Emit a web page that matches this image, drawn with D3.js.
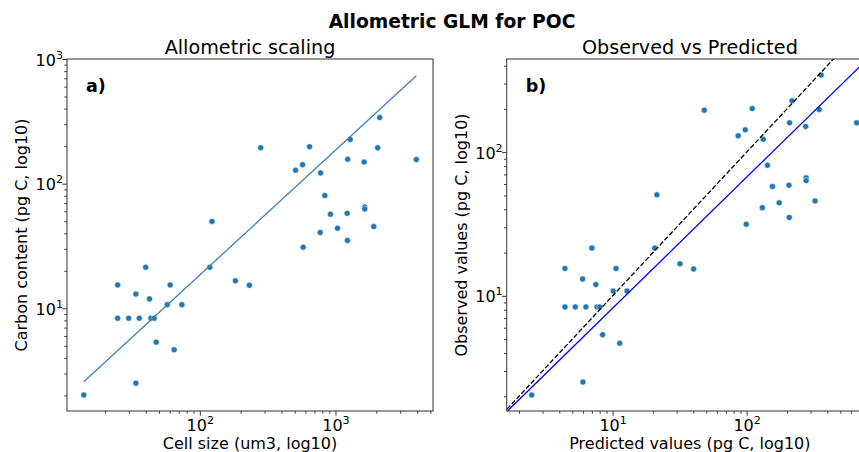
<!DOCTYPE html>
<html>
<head>
<meta charset="utf-8">
<script src="https://cdn.jsdelivr.net/npm/d3@7"></script>
<style>
body { margin: 0; background: #fff; }
text { font-family: "DejaVu Sans", sans-serif; fill: #000; }
</style>
</head>
<body>
<svg id="chart" width="859" height="452"></svg>
<script>
// panel a: cell size vs carbon content
var cellSize = [13.96, 33.8, 24.8, 24.8, 29.9, 35.8, 43.6, 46.1, 33.8, 39.9, 42.6, 47.7, 57.5, 60.5, 64.7, 73.8,
   118.5, 183, 232, 123, 281, 508, 572, 644, 776, 834, 918, 1219, 1035, 771, 578, 1225, 1230, 1283, 1626,
   1643, 1643, 1914, 2046, 2118, 3944];
var carbon = [2.02, 2.51, 15.4, 8.32, 8.32, 8.32, 8.32, 8.32, 13.0, 21.3, 11.9, 5.35, 10.7, 15.4, 4.64, 10.7,
   21.3, 16.6, 15.3, 49.7, 194, 128, 142, 198, 122, 80.2, 56.8, 57.8, 43.9, 40.6, 30.9, 35.0, 157, 226, 149,
   65.0, 62.7, 45.3, 194, 339, 156];
var fitLine = [{x: 13.96, y: 2.57}, {x: 3944, y: 735}];

// panel b: predicted vs observed
var predicted = [2.49, 6.0, 4.41, 4.41, 5.26, 6.32, 7.64, 8.0, 5.97, 7.0, 7.5, 8.42, 10.1, 10.6, 11.3, 12.8,
   20.6, 31.8, 40.2, 21.4, 48.3, 86.5, 97.7, 110, 133, 143, 156, 207, 175, 131, 99.3, 208, 209, 218, 276,
   278, 278, 324, 348, 360, 662];
var observed = [2.04, 2.51, 15.5, 8.38, 8.38, 8.38, 8.38, 8.38, 13.1, 21.5, 12.0, 5.37, 10.8, 15.5, 4.68, 10.8,
   21.5, 16.7, 15.4, 50.5, 196, 130, 143, 201, 123, 81, 57.7, 58.9, 44.4, 41.1, 31.5, 35.1, 160, 228, 151,
   66.3, 63.4, 45.8, 198, 344, 160];
var oneToOne = [{x: 1.5, y: 1.5}, {x: 1000, y: 1000}];
var obsFit = [{x: 1.62, y: 1.56}, {x: 877, y: 485}];

var titles = ["Allometric scaling", "Observed vs Predicted"];
var xLabels = ["Cell size (um3, log10)", "Predicted values (pg C, log10)"];
var yLabels = ["Carbon content (pg C, log10)", "Observed values (pg C, log10)"];
var panelTags = ["a)", "b)"];

var svg = d3.select("#chart");

svg.append("text")
   .attr("x", 452).attr("y", 28)
   .attr("text-anchor", "middle")
   .style("font-size", "18.7px").style("font-weight", "bold")
   .text("Allometric GLM for POC");

function logTicks(domain) {
   var major = [], minor = [];
   var e0 = Math.floor(Math.log10(domain[0])), e1 = Math.ceil(Math.log10(domain[1]));
   for (var e = e0; e <= e1; e++) {
      for (var m = 1; m < 10; m++) {
         var v = m * Math.pow(10, e);
         if (v >= domain[0] * 0.999 && v <= domain[1] * 1.001) (m === 1 ? major : minor).push(v);
      }
   }
   return {major: major, minor: minor};
}

function powLabel(sel) {
   sel.each(function(d) {
      var t = d3.select(this).text(null);
      t.append("tspan").text("10");
      t.append("tspan").attr("dy", -7).style("font-size", "11.2px").text(Math.round(Math.log10(d)));
   });
}

function drawPanel(i, box, xDomain, yDomain) {
   var x = d3.scaleLog().domain(xDomain).range([box.left, box.right]);
   var y = d3.scaleLog().domain(yDomain).range([box.bottom, box.top]);
   var g = svg.append("g");

   g.append("clipPath").attr("id", "clip" + i)
      .append("rect")
      .attr("x", box.left).attr("y", box.top)
      .attr("width", box.right - box.left).attr("height", box.bottom - box.top);

   var xt = logTicks(xDomain), yt = logTicks(yDomain);

   // minor ticks
   g.append("g").attr("transform", "translate(0," + box.bottom + ")")
      .call(d3.axisBottom(x).tickValues(xt.minor).tickSize(2.7).tickFormat(""));
   g.append("g").attr("transform", "translate(" + box.left + ",0)")
      .call(d3.axisLeft(y).tickValues(yt.minor).tickSize(2.7).tickFormat(""));

   // major ticks
   var gx = g.append("g").attr("transform", "translate(0," + box.bottom + ")")
      .call(d3.axisBottom(x).tickValues(xt.major).tickSize(4.7).tickPadding(4.7));
   var gy = g.append("g").attr("transform", "translate(" + box.left + ",0)")
      .call(d3.axisLeft(y).tickValues(yt.major).tickSize(4.7).tickPadding(4.7));

   g.selectAll(".domain").remove();
   g.selectAll(".tick line").attr("stroke", "#222").attr("stroke-width", 0.9);

   gx.selectAll(".tick text")
      .attr("y", 20).attr("dy", null)
      .style("font-size", "16px").style("font-family", "DejaVu Sans")
      .call(powLabel);
   gy.selectAll(".tick text")
      .attr("x", -4).attr("dy", "0.38em")
      .style("font-size", "16px").style("font-family", "DejaVu Sans")
      .call(powLabel);

   g.append("rect")
      .attr("x", box.left).attr("y", box.top)
      .attr("width", box.right - box.left).attr("height", box.bottom - box.top)
      .attr("fill", "none").attr("stroke", "#333").attr("stroke-width", 1);

   g.append("text")
      .attr("x", (box.left + box.right) / 2).attr("y", 54)
      .attr("text-anchor", "middle").style("font-size", "19.2px")
      .text(titles[i]);

   g.append("text")
      .attr("x", (box.left + box.right) / 2).attr("y", 449)
      .attr("text-anchor", "middle").style("font-size", "16px")
      .text(xLabels[i]);

   g.append("text")
      .attr("transform", "translate(" + box.ylab + "," + ((box.top + box.bottom) / 2) + ") rotate(-90)")
      .attr("text-anchor", "middle").style("font-size", "16px")
      .text(yLabels[i]);

   g.append("text")
      .attr("x", box.left + 19).attr("y", 92)
      .style("font-size", "17.5px").style("font-weight", "bold")
      .text(panelTags[i]);

   return {x: x, y: y, g: g};
}

var line = function(sx, sy) {
   return d3.line().x(function(d) { return sx(d.x); }).y(function(d) { return sy(d.y); });
};

// panel a
var pa = drawPanel(0, {left: 67, right: 433, top: 59, bottom: 411, ylab: 27}, [10.5, 5233], [1.5, 1000]);
var ptsA = cellSize.map(function(v, k) { return {x: v, y: carbon[k]}; });

pa.g.append("g").attr("clip-path", "url(#clip0)")
   .selectAll("circle").data(ptsA).enter().append("circle")
   .attr("cx", function(d) { return pa.x(d.x); })
   .attr("cy", function(d) { return pa.y(d.y); })
   .attr("r", 3)
   .attr("fill", "#1f77b4").attr("stroke", "#fff").attr("stroke-width", 0.5);

pa.g.append("path").datum(fitLine)
   .attr("d", line(pa.x, pa.y))
   .attr("fill", "none").attr("stroke", "#3d80b8").attr("stroke-width", 1.3);

// panel b
var pb = drawPanel(1, {left: 506.7, right: 873, top: 59, bottom: 411, ylab: 467}, [1.62, 877], [1.58, 445]);
var ptsB = predicted.map(function(v, k) { return {x: v, y: observed[k]}; });

var clipB = pb.g.append("g").attr("clip-path", "url(#clip1)");

clipB.selectAll("circle").data(ptsB).enter().append("circle")
   .attr("cx", function(d) { return pb.x(d.x); })
   .attr("cy", function(d) { return pb.y(d.y); })
   .attr("r", 3)
   .attr("fill", "#1f77b4").attr("stroke", "#fff").attr("stroke-width", 0.5);

clipB.append("path").datum(oneToOne)
   .attr("d", line(pb.x, pb.y))
   .attr("fill", "none").attr("stroke", "#000").attr("stroke-width", 1.3)
   .attr("stroke-dasharray", "4.9,2.1");

clipB.append("path").datum(obsFit)
   .attr("d", line(pb.x, pb.y))
   .attr("fill", "none").attr("stroke", "#0000ff").attr("stroke-width", 1.3);
</script>
</body>
</html>
